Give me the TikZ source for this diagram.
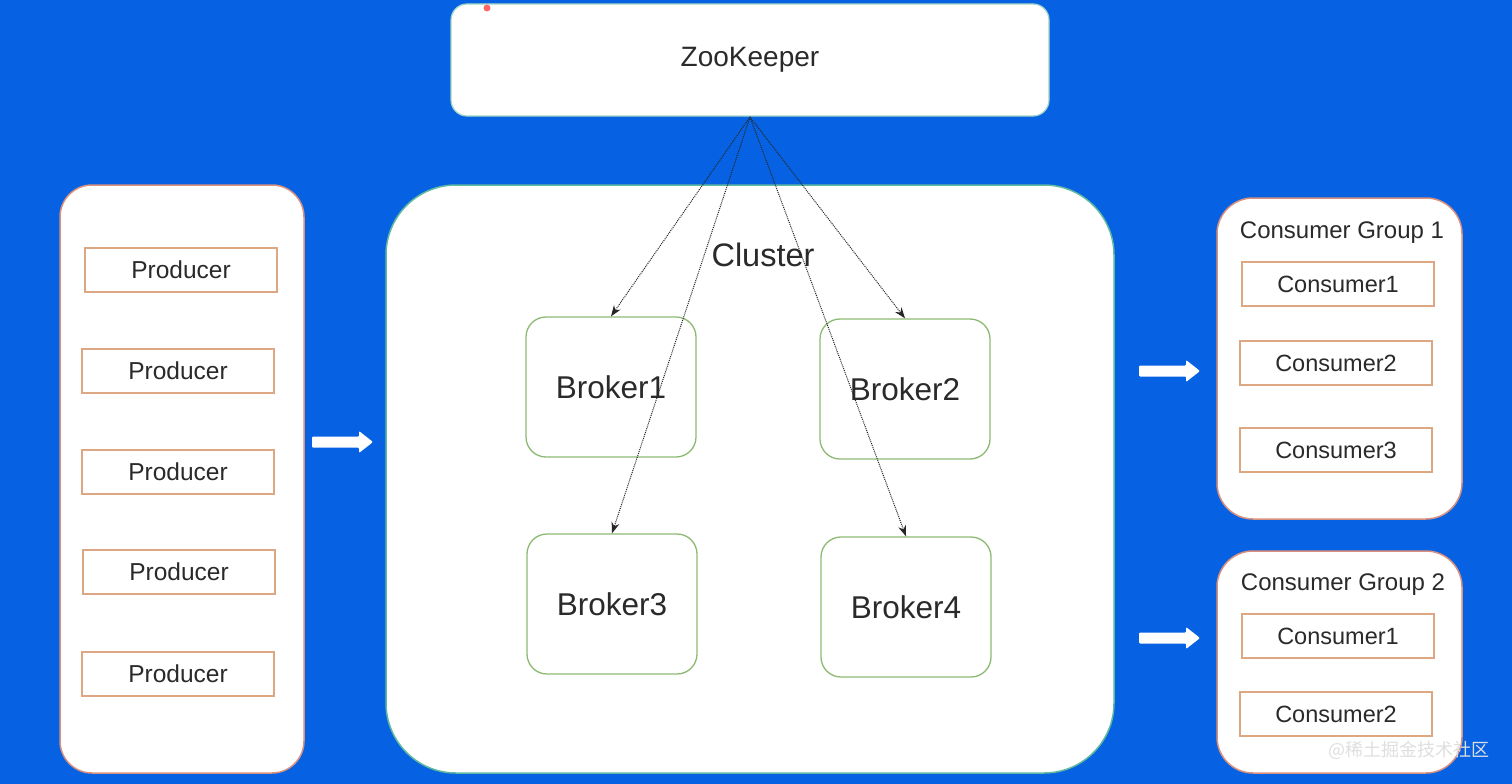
\documentclass[tikz,border=0pt]{standalone}
\usepackage{fontspec}
\setmainfont{Liberation Sans}
\newfontfamily\cjk{Noto Sans CJK SC}
\usetikzlibrary{arrows.meta}
\definecolor{bgblue}{HTML}{0662E2}
\definecolor{panelred}{HTML}{D9907E}
\definecolor{panelteal}{HTML}{5FB8A0}
\definecolor{boxtan}{HTML}{DDA783}
\definecolor{brokergreen}{HTML}{8DBA72}
\definecolor{txt}{HTML}{2A2A2A}
\begin{document}
\begin{tikzpicture}[x=1pt,y=-1pt,
  panel/.style={draw=#1, line width=1.5pt, fill=white},
  smallbox/.style={draw=boxtan, line width=1.3pt, fill=white, minimum width=192pt, minimum height=44pt, inner sep=0pt, text=txt, font=\fontsize{23.5}{26}\selectfont},
  broker/.style={draw=brokergreen, line width=1.3pt, fill=white, rounded corners=20pt, minimum width=170pt, minimum height=140pt, inner sep=0pt, text=txt, font=\fontsize{31.5}{34}\selectfont},
  zk/.style={-{Stealth[length=11pt,width=8pt]}, densely dotted, line width=1pt, black!85},
  blockarrow/.style={fill=white, draw=none}
]
\useasboundingbox (0,0) rectangle (1512,784);
\fill[bgblue] (0,0) rectangle (1512,784);

% ZooKeeper
\node[draw=panelteal!60, line width=1.2pt, fill=white, rounded corners=16pt, minimum width=598pt, minimum height=112pt, inner sep=0pt, text=txt, font=\fontsize{28}{31}\selectfont] (zk) at (750,60) {ZooKeeper};
\fill[red!60!white] (487,8) circle (3.5pt);
\coordinate (zkb) at (750,117);

% Producer panel
\node[panel=panelred, rounded corners=32pt, minimum width=244pt, minimum height=588pt, inner sep=0pt] (prod) at (182,479) {};
\node[smallbox, font=\fontsize{24.5}{27}\selectfont] (p1) at (181,270) {Producer};
\node[smallbox, font=\fontsize{24.5}{27}\selectfont] (p2) at (178,371) {Producer};
\node[smallbox, font=\fontsize{24.5}{27}\selectfont] (p3) at (178,472) {Producer};
\node[smallbox, font=\fontsize{24.5}{27}\selectfont] (p4) at (179,572) {Producer};
\node[smallbox, font=\fontsize{24.5}{27}\selectfont] (p5) at (178,674) {Producer};

% Cluster panel
\node[panel=panelteal, rounded corners=70pt, minimum width=728pt, minimum height=588pt, inner sep=0pt] (cluster) at (750,479) {};
\node[text=txt, font=\fontsize{32.5}{35}\selectfont, inner sep=0pt] (cl) at (763,255) {Cluster};

\node[broker] (b1) at (611,387) {Broker1};
\node[broker] (b2) at (905,389) {Broker2};
\node[broker] (b3) at (612,604) {Broker3};
\node[broker] (b4) at (906,607) {Broker4};

\draw[zk] (zkb) -- (b1.north);
\draw[zk] (zkb) -- (b3.north);
\draw[zk] (zkb) -- (b2.north);
\draw[zk] (zkb) -- (b4.north);

% block arrows
\fill[blockarrow, rounded corners=1pt] (312,436.5) -- (359,436.5) -- (359,431) -- (373,442) -- (359,453) -- (359,447.5) -- (312,447.5) -- cycle;
\fill[blockarrow, rounded corners=1pt] (1139,365.5) -- (1186,365.5) -- (1186,360) -- (1200,371) -- (1186,382) -- (1186,376.5) -- (1139,376.5) -- cycle;
\fill[blockarrow, rounded corners=1pt] (1139,632.5) -- (1186,632.5) -- (1186,627) -- (1200,638) -- (1186,649) -- (1186,643.5) -- (1139,643.5) -- cycle;

% Consumer Group 1
\node[panel=panelred, rounded corners=36pt, minimum width=245pt, minimum height=321pt, inner sep=0pt] (cg1) at (1339.5,358.5) {};
\node[text=txt, font=\fontsize{24}{26}\selectfont, inner sep=0pt] (cg1t) at (1342,233) {Consumer Group 1};
\node[smallbox] (c11) at (1338,284) {Consumer1};
\node[smallbox] (c12) at (1336,363) {Consumer2};
\node[smallbox] (c13) at (1336,450) {Consumer3};

% Consumer Group 2
\node[panel=panelred, rounded corners=36pt, minimum width=245pt, minimum height=222pt, inner sep=0pt] (cg2) at (1339.5,662) {};
\node[text=txt, font=\fontsize{24}{26}\selectfont, inner sep=0pt] (cg2t) at (1343,585) {Consumer Group 2};
\node[smallbox] (c21) at (1338,636) {Consumer1};
\node[smallbox] (c22) at (1336,714) {Consumer2};

% watermark
\node[text=white!75!gray, font=\cjk\fontsize{18}{20}\selectfont, inner sep=0pt] (wm) at (1409,750) {@稀土掘金技术社区};
\end{tikzpicture}
\end{document}
